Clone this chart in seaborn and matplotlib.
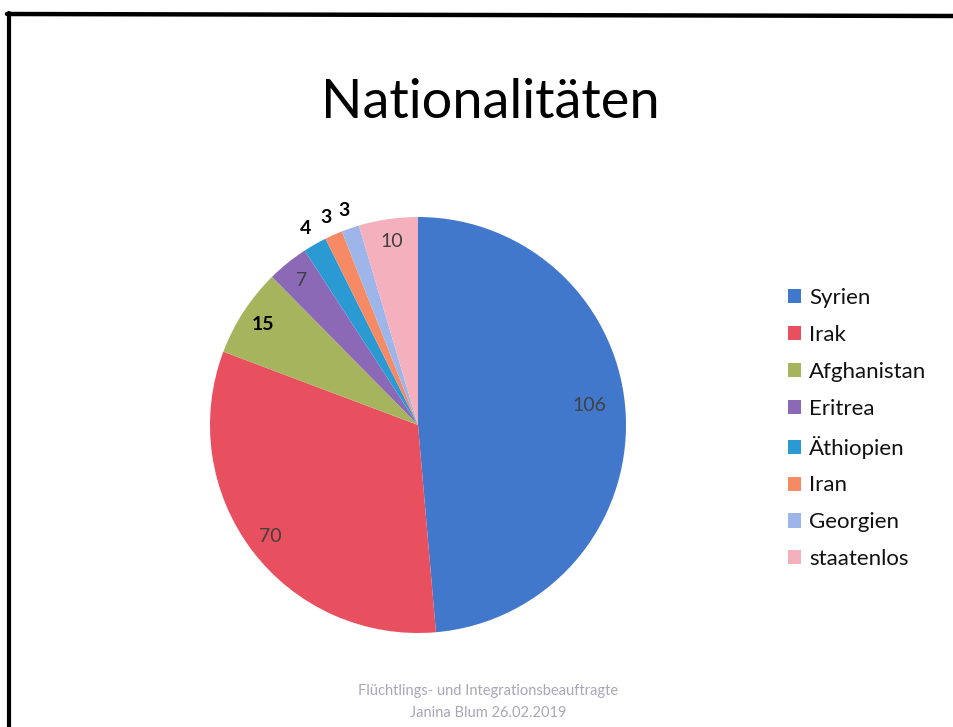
import numpy as np
import matplotlib
matplotlib.use("Agg")
import matplotlib.pyplot as plt
from matplotlib.lines import Line2D
import seaborn as sns

categories = ["Syrien", "Irak", "Afghanistan", "Eritrea", "Äthiopien", "Iran", "Georgien", "staatenlos"]
values = [106, 70, 15, 7, 4, 3, 3, 10]
colors = ["#4278cc", "#e9505f", "#a6b45e", "#8c69b7", "#2b9ad2", "#f68a64", "#9db5e8", "#f4b1bd"]
title = "Nationalitäten"
footer = ["Flüchtlings- und Integrationsbeauftragte", "Janina Blum 26.02.2019"]

sns.set_theme(style="white")
plt.rcParams['font.family'] = ['Lato', 'DejaVu Sans']

W, H = 954, 727
fig = plt.figure(figsize=(W / 100, H / 100), dpi=100)
fig.patch.set_facecolor("white")

# pie axes: center (418,425), radius 208 px
cx, cy, r = 418, 425, 208
ax = fig.add_axes([(cx - r) / W, (H - cy - r) / H, 2 * r / W, 2 * r / H])
palette = sns.color_palette(colors)
wedges, _ = ax.pie(values, colors=palette, startangle=90, counterclock=False,
                   radius=1, wedgeprops=dict(linewidth=0))
ax.set_xlim(-1, 1)
ax.set_ylim(-1, 1)
ax.set_aspect("auto")
ax.axis("off")

# value labels
for i, (w, v) in enumerate(zip(wedges, values)):
    deg = (w.theta1 + w.theta2) / 2
    if v <= 4:
        rr, col, wt, fs = 1.09, "black", "bold", 14
    elif i == 0:
        rr, col, wt, fs = 0.83, "#404040", "normal", 14
        deg += 4
    elif i == 2:
        rr, col, wt, fs = 0.89, "black", "bold", 14
    else:
        rr, col, wt, fs = 0.89, "#404040", "normal", 14
    ang = np.deg2rad(deg)
    ax.text(rr * np.cos(ang), rr * np.sin(ang), str(v), ha="center", va="center",
            fontsize=fs, color=col, fontweight=wt)

# title
fig.text(490 / W, 1 - 103 / H, title, ha="center", va="center", fontsize=39, color="black")

# legend
fig.legend(wedges, categories, loc="upper left", bbox_to_anchor=(788 / W, 1 - 288 / H),
           bbox_transform=fig.transFigure, frameon=False, fontsize=16,
           handlelength=0.6, handleheight=0.6, handletextpad=0.35, labelspacing=0.76,
           borderpad=0, borderaxespad=0, labelcolor="#111111")

# footer
fig.text(488 / W, 1 - 691 / H, footer[0], ha="center", va="center", fontsize=10.5, color="#a8a6b8")
fig.text(488 / W, 1 - 713 / H, footer[1], ha="center", va="center", fontsize=10.5, color="#a8a6b8")

# scanned frame borders
fig.add_artist(Line2D([7 / W, 1], [1 - 14 / H, 1 - 16 / H], color="black", lw=3.2, transform=fig.transFigure))
fig.add_artist(Line2D([9 / W, 9 / W], [1 - 13 / H, 0], color="black", lw=3, transform=fig.transFigure))

fig.savefig("out.png", dpi=100, facecolor="white")
